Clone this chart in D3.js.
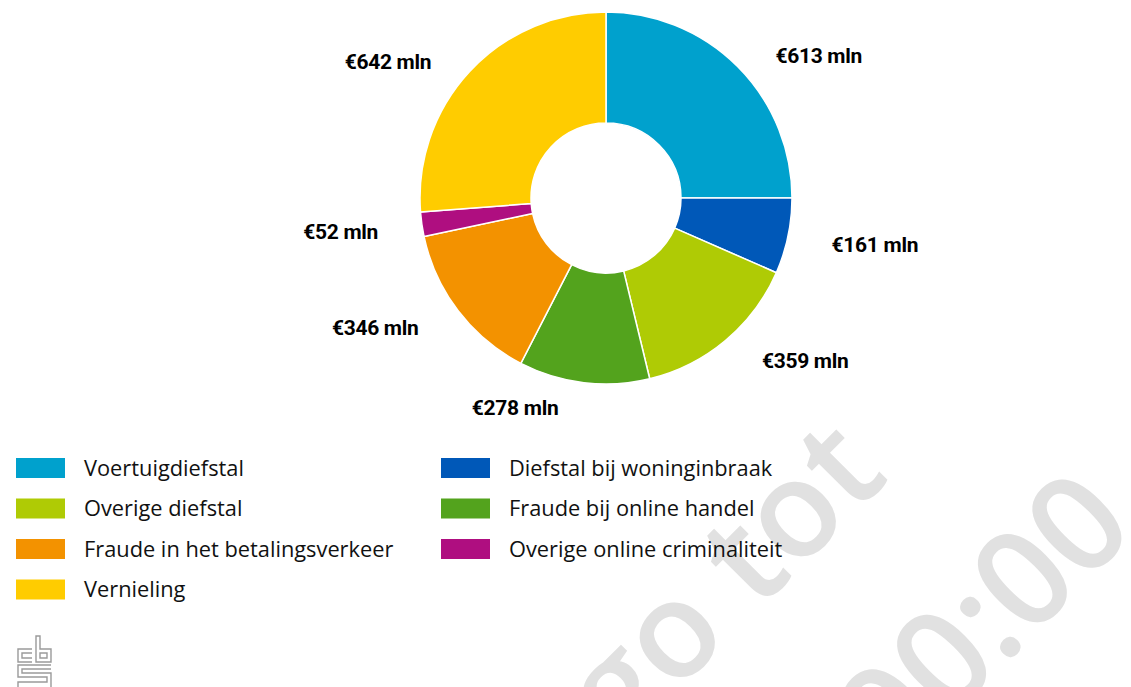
<!DOCTYPE html>
<html>
<head>
<meta charset="utf-8">
<script src="https://cdn.jsdelivr.net/npm/d3@7"></script>
<style>
  body { margin: 0; background: #fff; }
  svg { display: block; font-family: Roboto, "Noto Sans", sans-serif; }
</style>
</head>
<body>
<div id="chart"></div>
<script>
var svgWidth = 1131;
var svgHeight = 687;

// data
var categories = [
  "Voertuigdiefstal",
  "Diefstal bij woninginbraak",
  "Overige diefstal",
  "Fraude bij online handel",
  "Fraude in het betalingsverkeer",
  "Overige online criminaliteit",
  "Vernieling"
];
var values = [613, 161, 359, 278, 346, 52, 642];
var colors = ["#00a1cd", "#0058b8", "#afcb05", "#53a31d", "#f39200", "#af0e80", "#ffcc00"];
var watermarkLines = ["Embargo tot", "00:00"];

var center = { x: 606, y: 198 };
var outerRadius = 186;
var innerRadius = 75;
var labelRadius = 207;

var svg = d3.select("#chart")
  .append("svg")
  .attr("width", svgWidth)
  .attr("height", svgHeight);

// watermark in the background
var wm = svg.append("g")
  .attr("transform", "rotate(-45)")
  .attr("fill", "#e1e1e1")
  .style("font-family", "'Open Sans', sans-serif")
  .style("font-weight", 600)
  .style("font-size", "135px")
  .attr("text-anchor", "end");

wm.append("text").attr("x", 292).attr("y", 968).text(watermarkLines[0]);
wm.append("text").attr("x", 430).attr("y", 1180).text(watermarkLines[1]);

var pie = d3.pie().sort(null).value(d => d);
var arcs = pie(values);

var arc = d3.arc().innerRadius(innerRadius).outerRadius(outerRadius);
var labelArc = d3.arc().innerRadius(labelRadius).outerRadius(labelRadius);

var chartGroup = svg.append("g")
  .attr("transform", `translate(${center.x}, ${center.y})`);

chartGroup.selectAll("path")
  .data(arcs)
  .enter()
  .append("path")
  .attr("d", arc)
  .attr("fill", (d, i) => colors[i])
  .attr("stroke", "#fff")
  .attr("stroke-width", 1.5)
  .attr("stroke-linejoin", "round");

// labels: left aligned on the right half, right aligned on the left half
chartGroup.selectAll(".label")
  .data(arcs)
  .enter()
  .append("text")
  .attr("class", "label")
  .each(function(d) {
    var c = labelArc.centroid(d);
    var mid = (d.startAngle + d.endAngle) / 2;
    var right = mid < Math.PI;
    d3.select(this)
      .attr("x", c[0] + (right ? 23 : -23))
      .attr("y", c[1] + 4)
      .attr("dy", "0.35em")
      .attr("text-anchor", right ? "start" : "end");
  })
  .style("font-size", "21px")
  .style("font-weight", 700)
  .style("letter-spacing", "-0.3px")
  .attr("fill", "#000")
  .text(d => `€${d.value} mln`);

// legend, two columns
var legend = svg.append("g")
  .attr("transform", "translate(16, 458)");

var item = legend.selectAll(".item")
  .data(categories)
  .enter()
  .append("g")
  .attr("class", "item")
  .attr("transform", (d, i) => `translate(${(i % 2) * 425}, ${Math.floor(i / 2) * 40.5})`);

item.append("rect")
  .attr("width", 49)
  .attr("height", 20)
  .attr("fill", (d, i) => colors[i]);

item.append("text")
  .attr("x", 68)
  .attr("y", 10)
  .attr("dy", "0.35em")
  .style("font-family", "'Open Sans', sans-serif")
  .style("font-size", "21.8px")
  .attr("fill", "#111")
  .text(d => d);

// cbs logo, rough outline
var logo = svg.append("g")
  .attr("transform", "translate(17, 635)")
  .attr("fill", "none")
  .attr("stroke", "#9a9a9a")
  .attr("stroke-width", 1.4);

logo.append("path").attr("d", "M15,14 H1 V27 H15 M15,18 H5 V23 H15");
logo.append("path").attr("d", "M19,1 V27 H34 V14 H23 V1 Z M23,18 H30 V23 H23 Z");
logo.append("path").attr("d", "M34,30 H1 V42 H30 V47 H1 V52 M34,34 H5 V38 H34 V52");
</script>
</body>
</html>
